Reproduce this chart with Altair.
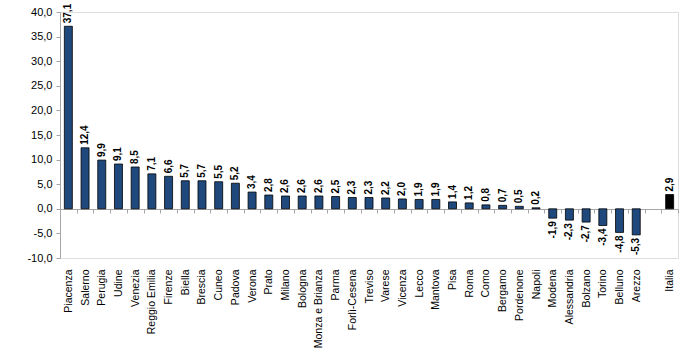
import altair as alt
import pandas as pd

categories = ["Piacenza", "Salerno", "Perugia", "Udine", "Venezia", "Reggio Emilia",
              "Firenze", "Biella", "Brescia", "Cuneo", "Padova", "Verona", "Prato",
              "Milano", "Bologna", "Monza e Brianza", "Parma", "Forlì-Cesena", "Treviso",
              "Varese", "Vicenza", "Lecco", "Mantova", "Pisa", "Roma", "Como", "Bergamo",
              "Pordenone", "Napoli", "Modena", "Alessandria", "Bolzano", "Torino",
              "Belluno", "Arezzo", "Italia"]
values = [37.1, 12.4, 9.9, 9.1, 8.5, 7.1, 6.6, 5.7, 5.7, 5.5, 5.2, 3.4, 2.8, 2.6, 2.6,
          2.6, 2.5, 2.3, 2.3, 2.2, 2.0, 1.9, 1.9, 1.4, 1.2, 0.8, 0.7, 0.5, 0.2, -1.9,
          -2.3, -2.7, -3.4, -4.8, -5.3, 2.9]
groups = ["city"] * 35 + ["italia"]
domain = categories[:35] + [" "] + ["Italia"]
y_ticks = [-10, -5, 0, 5, 10, 15, 20, 25, 30, 35, 40]

df = pd.DataFrame({"cat": categories, "val": values, "grp": groups})

FONT = "Liberation Sans"
GRAY = "#a6a6a6"

x_enc = alt.X(
    "cat:N", sort=None,
    scale=alt.Scale(domain=domain, paddingInner=0, paddingOuter=0),
    axis=alt.Axis(title=None, labelAngle=270, labelAlign="right", labelBaseline="middle",
                  labelFont=FONT, labelFontSize=10.5, labelColor="black",
                  domainColor=GRAY, tickColor=GRAY, tickSize=4, tickBand="extent",
                  offset=-49, labelPadding=56, labelOverlap=False),
)
y_enc = alt.Y(
    "val:Q",
    scale=alt.Scale(domain=[-10, 40], nice=False, zero=False),
    axis=alt.Axis(title=None, values=y_ticks, grid=False,
                  labelExpr="replace(replace(format(datum.value, '.1f'), '.', ','), '\u2212', '-')",
                  labelFont=FONT, labelFontSize=11, labelColor="black",
                  domainColor=GRAY, tickColor=GRAY, tickSize=4, labelPadding=4),
)

base = alt.Chart(df).transform_calculate(
    lbl="replace(replace(format(datum.val, '.1f'), '.', ','), '\u2212', '-')"
)

bars = base.mark_bar(width=8, stroke="black", strokeWidth=0.8).encode(
    x=x_enc, y=y_enc, y2=alt.datum(0),
    color=alt.Color("grp:N", scale=alt.Scale(domain=["city", "italia"],
                                             range=["#1F497D", "#000000"]), legend=None),
)

pos = base.transform_filter("datum.val >= 0").mark_text(
    angle=270, align="left", baseline="middle", dx=3,
    font=FONT, fontSize=10, fontWeight="bold", color="black"
).encode(x=x_enc, y=y_enc, text="lbl:N")

neg = base.transform_filter("datum.val < 0").mark_text(
    angle=270, align="right", baseline="middle", dx=-3,
    font=FONT, fontSize=10, fontWeight="bold", color="black"
).encode(x=x_enc, y=y_enc, text="lbl:N")

chart = alt.layer(bars, pos, neg).properties(
    width=618, height=246,
    autosize=alt.AutoSizeParams(type="none"),
    padding={"left": 60, "top": 12, "right": 22, "bottom": 94},
).configure_view(stroke=None).configure(background="white")

chart.save("out.html", embed_options={"renderer": "svg", "actions": False})
